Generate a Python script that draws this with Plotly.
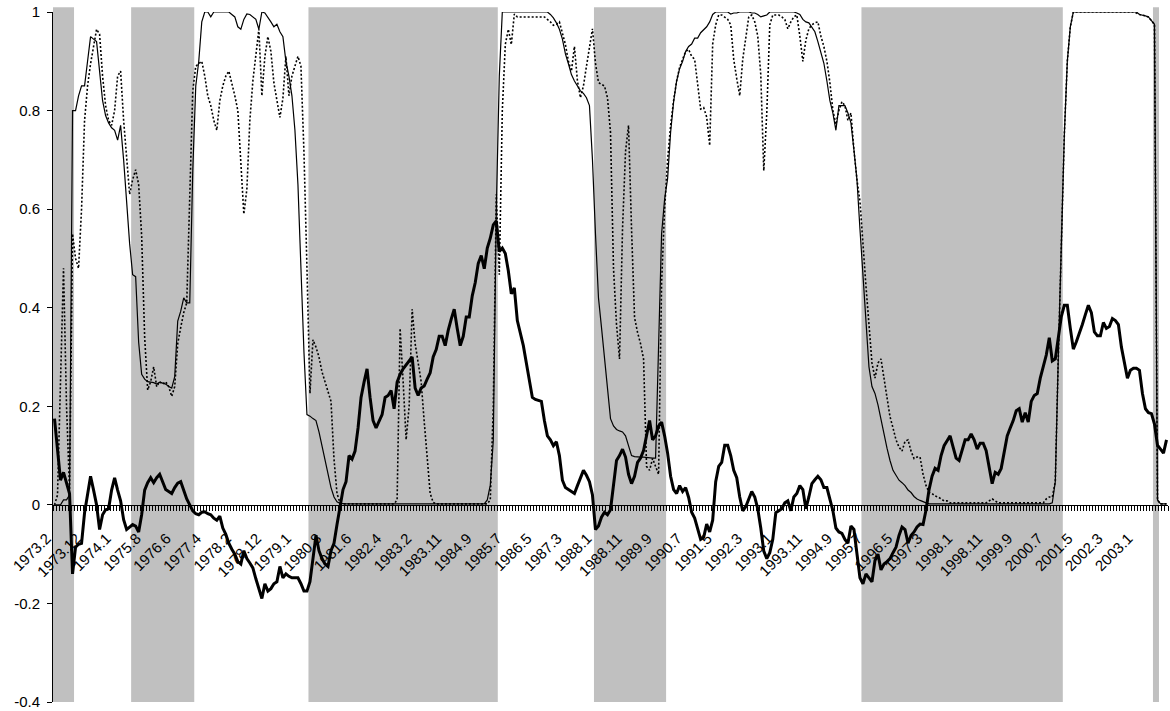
import plotly.graph_objects as go

# ---- x-axis tick labels (one every 10 monthly categories) ----
tick_labels = ["1973.2", "1973.12", "1974.1", "1975.8", "1976.6", "1977.4", "1978.2",
               "1978.12", "1979.1", "1980.8", "1981.6", "1982.4", "1983.2", "1983.11",
               "1984.9", "1985.7", "1986.5", "1987.3", "1988.1", "1988.11", "1989.9",
               "1990.7", "1991.5", "1992.3", "1993.1", "1993.11", "1994.9", "1995.7",
               "1996.5", "1997.3", "1998.1", "1998.11", "1999.9", "2000.7", "2001.5",
               "2002.3", "2003.1"]
label_step = 10

y_tick_vals = [1, 0.8, 0.6, 0.4, 0.2, 0, -0.2, -0.4]
y_tick_text = ["1", "0.8", "0.6", "0.4", "0.2", "0", "-0.2", "-0.4"]

# ---- shaded regime periods (category index edges) ----
band_start = [-0.5, 25.5, 84.5, 179.5, 268.5, 365.5]
band_end = [6.5, 46.5, 147.5, 203.5, 335.5, 367.5]

# ---- thin solid series ----
thin_solid = [
    0.00, 0.00, 0.00, 0.01, 0.01, 0.02, 0.80, 0.80, 0.83, 0.85,
    0.85, 0.90, 0.95, 0.945, 0.94, 0.88, 0.82, 0.79, 0.775, 0.765,
    0.76, 0.74, 0.77, 0.70, 0.615, 0.53, 0.467, 0.463, 0.33, 0.265,
    0.255, 0.25, 0.249, 0.248, 0.245, 0.249, 0.247, 0.245, 0.24, 0.237,
    0.26, 0.373, 0.393, 0.42, 0.41, 0.41, 0.677, 0.85, 0.90, 0.98,
    1.0, 1.0, 0.99, 1.0, 1.0, 1.0, 1.0, 1.0, 1.0, 0.995,
    0.99, 0.97, 0.965, 0.985, 0.996, 0.995, 0.99, 0.985, 0.965, 1.0,
    0.998, 0.99, 0.98, 0.97, 0.975, 0.96, 0.95, 0.90, 0.87, 0.83,
    0.76, 0.65, 0.48, 0.31, 0.183, 0.18, 0.175, 0.171, 0.148, 0.12,
    0.09, 0.065, 0.035, 0.016, 0.006, 0.003, 0.002, 0.002, 0.002, 0.002,
    0.002, 0.002, 0.002, 0.002, 0.002, 0.002, 0.002, 0.002, 0.002, 0.002,
    0.002, 0.002, 0.002, 0.002, 0.002, 0.002, 0.002, 0.002, 0.002, 0.002,
    0.002, 0.002, 0.002, 0.002, 0.002, 0.002, 0.002, 0.002, 0.002, 0.002,
    0.002, 0.002, 0.002, 0.002, 0.002, 0.002, 0.002, 0.002, 0.002, 0.002,
    0.002, 0.002, 0.002, 0.002, 0.01, 0.04, 0.13, 0.60, 0.87, 1.0,
    1.0, 1.0, 1.0, 1.0, 1.0, 1.0, 1.0, 1.0, 1.0, 1.0,
    1.0, 1.0, 1.0, 1.0, 1.0, 0.995, 0.988, 0.978, 0.965, 0.945,
    0.915, 0.895, 0.873, 0.86, 0.85, 0.84, 0.835, 0.826, 0.81, 0.70,
    0.55, 0.42, 0.36, 0.30, 0.24, 0.175, 0.16, 0.153, 0.15, 0.148,
    0.14, 0.12, 0.10, 0.098, 0.097, 0.097, 0.097, 0.096, 0.096, 0.095,
    0.095, 0.30, 0.55, 0.62, 0.662, 0.756, 0.818, 0.86, 0.885, 0.90,
    0.92, 0.93, 0.935, 0.947, 0.947, 0.958, 0.965, 0.97, 0.98, 0.995,
    1.0, 1.0, 1.0, 1.0, 1.0, 0.996, 0.998, 0.998, 1.0, 1.0,
    1.0, 1.0, 0.998, 0.998, 0.995, 0.99, 0.992, 0.994, 1.0, 1.0,
    1.0, 1.0, 1.0, 1.0, 1.0, 1.0, 1.0, 0.998, 0.995, 0.985,
    0.98, 0.978, 0.97, 0.96, 0.94, 0.92, 0.896, 0.86, 0.82, 0.795,
    0.76, 0.81, 0.81, 0.81, 0.795, 0.775, 0.72, 0.66, 0.56, 0.46,
    0.37, 0.28, 0.24, 0.226, 0.203, 0.171, 0.14, 0.115, 0.09, 0.07,
    0.06, 0.05, 0.045, 0.039, 0.03, 0.025, 0.017, 0.012, 0.009, 0.006,
    0.004, 0.002, 0.002, 0.002, 0.002, 0.002, 0.002, 0.002, 0.002, 0.002,
    0.002, 0.002, 0.002, 0.002, 0.002, 0.002, 0.002, 0.002, 0.002, 0.002,
    0.002, 0.002, 0.002, 0.002, 0.002, 0.002, 0.002, 0.002, 0.002, 0.002,
    0.002, 0.002, 0.002, 0.002, 0.002, 0.002, 0.002, 0.002, 0.002, 0.002,
    0.002, 0.002, 0.004, 0.047, 0.30, 0.55, 0.75, 0.90, 0.97, 1.0,
    1.0, 1.0, 1.0, 1.0, 1.0, 1.0, 1.0, 1.0, 1.0, 1.0,
    1.0, 1.0, 1.0, 1.0, 1.0, 1.0, 1.0, 1.0, 1.0, 1.0,
    1.0, 0.995, 0.994, 0.992, 0.99, 0.982, 0.975, 0.01, 0.002, 0.002,
    0.002,
]

# ---- dotted series ----
dotted = [
    0.0, 0.02, 0.25, 0.48, 0.20, 0.03, 0.55, 0.50, 0.48, 0.60,
    0.78, 0.85, 0.895, 0.93, 0.965, 0.955, 0.87, 0.81, 0.78, 0.77,
    0.80, 0.87, 0.88, 0.78, 0.70, 0.63, 0.66, 0.68, 0.65, 0.545,
    0.34, 0.233, 0.25, 0.28, 0.24, 0.25, 0.245, 0.25, 0.24, 0.22,
    0.24, 0.327, 0.36, 0.39, 0.41, 0.64, 0.84, 0.89, 0.895, 0.90,
    0.87, 0.83, 0.81, 0.78, 0.76, 0.82, 0.85, 0.87, 0.88, 0.856,
    0.83, 0.80, 0.70, 0.59, 0.64, 0.78, 0.86, 0.91, 0.965, 0.83,
    0.91, 0.95, 0.92, 0.856, 0.82, 0.786, 0.825, 0.91, 0.83, 0.87,
    0.89, 0.91, 0.89, 0.716, 0.48, 0.226, 0.335, 0.32, 0.30, 0.27,
    0.25, 0.23, 0.21, 0.093, 0.023, 0.004, 0.002, 0.002, 0.002, 0.002,
    0.002, 0.002, 0.002, 0.002, 0.002, 0.002, 0.002, 0.002, 0.002, 0.002,
    0.002, 0.002, 0.002, 0.002, 0.01, 0.358, 0.25, 0.132, 0.20, 0.397,
    0.327, 0.29, 0.25, 0.17, 0.093, 0.023, 0.005, 0.002, 0.002, 0.002,
    0.002, 0.002, 0.002, 0.002, 0.002, 0.002, 0.002, 0.002, 0.002, 0.002,
    0.002, 0.002, 0.002, 0.002, 0.002, 0.01, 0.20, 0.63, 0.467, 0.80,
    0.934, 0.965, 0.934, 0.996, 0.99, 0.99, 0.99, 0.99, 0.99, 0.99,
    0.99, 0.99, 0.99, 0.99, 0.985, 0.98, 0.973, 0.975, 0.98, 0.957,
    0.934, 0.90, 0.88, 0.93, 0.86, 0.826, 0.85, 0.89, 0.927, 0.966,
    0.896, 0.857, 0.853, 0.85, 0.826, 0.756, 0.48, 0.366, 0.296, 0.56,
    0.717, 0.77, 0.56, 0.38, 0.35, 0.327, 0.296, 0.078, 0.07, 0.094,
    0.078, 0.062, 0.45, 0.60, 0.70, 0.77, 0.82, 0.86, 0.888, 0.905,
    0.92, 0.924, 0.91, 0.904, 0.857, 0.803, 0.806, 0.787, 0.729, 0.935,
    0.974, 0.994, 0.994, 0.99, 0.985, 0.974, 0.904, 0.865, 0.83, 0.904,
    0.951, 0.99, 0.994, 0.98, 0.951, 0.873, 0.678, 0.795, 0.974, 0.994,
    0.994, 0.994, 0.99, 0.985, 0.966, 0.98, 0.99, 0.994, 0.951, 0.90,
    0.943, 0.966, 0.974, 0.978, 0.98, 0.951, 0.93, 0.90, 0.857, 0.80,
    0.772, 0.80, 0.818, 0.81, 0.78, 0.795, 0.72, 0.66, 0.616, 0.522,
    0.444, 0.366, 0.288, 0.257, 0.288, 0.296, 0.257, 0.21, 0.179, 0.156,
    0.132, 0.117, 0.109, 0.129, 0.132, 0.109, 0.094, 0.097, 0.097, 0.062,
    0.039, 0.025, 0.023, 0.018, 0.016, 0.012, 0.008, 0.008, 0.004, 0.004,
    0.004, 0.004, 0.004, 0.004, 0.004, 0.004, 0.004, 0.004, 0.004, 0.004,
    0.004, 0.008, 0.012, 0.008, 0.004, 0.004, 0.004, 0.004, 0.004, 0.004,
    0.004, 0.004, 0.004, 0.004, 0.004, 0.004, 0.004, 0.004, 0.004, 0.004,
    0.012, 0.016, 0.016, 0.047, 0.30, 0.55, 0.75, 0.90, 0.97, 1.0,
    1.0, 1.0, 1.0, 1.0, 1.0, 1.0, 1.0, 1.0, 1.0, 1.0,
    1.0, 1.0, 1.0, 1.0, 1.0, 1.0, 1.0, 1.0, 1.0, 1.0,
    0.998, 0.995, 0.994, 0.992, 0.99, 0.982, 0.975, 0.01, 0.002, 0.002,
    0.002,
]

# ---- thick solid series ----
thick = [
    0.175, 0.11, 0.05, 0.066, 0.045, 0.023, -0.14, -0.086, -0.08, -0.078,
    -0.016, 0.02, 0.058, 0.03, 0.0, -0.05, -0.02, -0.01, -0.008, 0.03,
    0.055, 0.03, 0.008, -0.03, -0.05, -0.045, -0.04, -0.043, -0.055, -0.02,
    0.03, 0.045, 0.055, 0.045, 0.055, 0.062, 0.045, 0.031, 0.027, 0.023,
    0.035, 0.044, 0.047, 0.03, 0.012, 0.0, -0.012, -0.018, -0.02, -0.015,
    -0.014, -0.018, -0.02, -0.027, -0.031, -0.023, -0.047, -0.06, -0.078, -0.09,
    -0.10, -0.115, -0.12, -0.093, -0.109, -0.118, -0.128, -0.15, -0.168, -0.19,
    -0.16, -0.175, -0.17, -0.16, -0.156, -0.125, -0.148, -0.14, -0.145, -0.148,
    -0.148, -0.148, -0.16, -0.175, -0.175, -0.156, -0.109, -0.062, -0.093, -0.109,
    -0.12, -0.125, -0.093, -0.078, -0.04, 0.0, 0.031, 0.047, 0.10, 0.093,
    0.109, 0.156, 0.218, 0.249, 0.276, 0.218, 0.171, 0.156, 0.171, 0.183,
    0.218, 0.222, 0.232, 0.195, 0.249, 0.265, 0.276, 0.284, 0.29, 0.30,
    0.237, 0.222, 0.237, 0.241, 0.255, 0.268, 0.30, 0.315, 0.342, 0.342,
    0.323, 0.354, 0.377, 0.397, 0.358, 0.323, 0.342, 0.381, 0.381, 0.424,
    0.451, 0.49, 0.506, 0.479, 0.521, 0.541, 0.568, 0.576, 0.514, 0.521,
    0.51, 0.475, 0.428, 0.44, 0.374, 0.35, 0.323, 0.288, 0.249, 0.218,
    0.214, 0.212, 0.21, 0.171, 0.14, 0.132, 0.12, 0.128, 0.10, 0.05,
    0.035, 0.031, 0.027, 0.023, 0.039, 0.055, 0.07, 0.06, 0.047, 0.02,
    -0.05, -0.043, -0.025, -0.015, -0.02, -0.01, 0.04, 0.09, 0.10, 0.113,
    0.097, 0.062, 0.043, 0.058, 0.086, 0.095, 0.11, 0.14, 0.171, 0.132,
    0.14, 0.16, 0.168, 0.14, 0.105, 0.058, 0.031, 0.023, 0.039, 0.027,
    0.035, 0.015, -0.015, -0.027, -0.05, -0.07, -0.066, -0.039, -0.055, -0.031,
    0.047, 0.078, 0.086, 0.121, 0.121, 0.10, 0.07, 0.055, 0.016, -0.012,
    -0.004, 0.012, 0.027, 0.016, -0.008, -0.047, -0.094, -0.109, -0.097, -0.07,
    -0.016, -0.012, -0.008, 0.004, 0.008, -0.012, 0.016, 0.023, 0.039, 0.031,
    -0.008, 0.016, 0.043, 0.051, 0.058, 0.051, 0.035, 0.035, 0.012, -0.012,
    -0.047, -0.055, -0.058, -0.07, -0.078, -0.043, -0.05, -0.10, -0.148, -0.16,
    -0.14, -0.148, -0.156, -0.113, -0.10, -0.132, -0.12, -0.115, -0.109, -0.097,
    -0.086, -0.062, -0.045, -0.05, -0.078, -0.062, -0.055, -0.045, -0.039, -0.04,
    -0.01, 0.031, 0.058, 0.074, 0.07, 0.10, 0.12, 0.13, 0.14, 0.117,
    0.095, 0.09, 0.109, 0.132, 0.132, 0.144, 0.132, 0.113, 0.125, 0.125,
    0.11, 0.078, 0.043, 0.066, 0.062, 0.074, 0.109, 0.14, 0.156, 0.171,
    0.191, 0.195, 0.168, 0.187, 0.168, 0.21, 0.222, 0.226, 0.257, 0.284,
    0.304, 0.339, 0.292, 0.296, 0.343, 0.382, 0.405, 0.405, 0.358, 0.316,
    0.331, 0.347, 0.366, 0.386, 0.405, 0.39, 0.351, 0.343, 0.343, 0.37,
    0.358, 0.362, 0.378, 0.374, 0.366, 0.32, 0.288, 0.257, 0.273, 0.277,
    0.277, 0.273, 0.226, 0.195, 0.187, 0.185, 0.164, 0.121, 0.113, 0.105,
    0.132,
]

if not (len(thin_solid) == len(dotted) == len(thick)):
    raise ValueError(f"length mismatch {len(thin_solid)} {len(dotted)} {len(thick)}")

n = len(thick)
x = list(range(n))

fig = go.Figure()

for s, e in zip(band_start, band_end):
    fig.add_shape(type="rect", xref="x", yref="paper", x0=s, x1=e, y0=0, y1=1.007,
                  fillcolor="#C0C0C0", line=dict(width=0), layer="below")

fig.add_trace(go.Scatter(x=x, y=thin_solid, mode="lines",
                         line=dict(color="black", width=1.2), hoverinfo="skip"))
fig.add_trace(go.Scatter(x=x, y=dotted, mode="lines",
                         line=dict(color="black", width=1.6, dash="2px,2px"), hoverinfo="skip"))
fig.add_trace(go.Scatter(x=x, y=thick, mode="lines",
                         line=dict(color="black", width=3), hoverinfo="skip"))

fig.update_layout(
    width=1170, height=711,
    margin=dict(l=53, r=2, t=12, b=9, autoexpand=False),
    plot_bgcolor="white", paper_bgcolor="white",
    showlegend=False,
    font=dict(family="Arial, 'Liberation Sans', sans-serif", size=15, color="black"),
)

fig.update_xaxes(
    range=[-0.5, n - 0.5],
    tickmode="array",
    tickvals=[i * label_step for i in range(len(tick_labels))],
    ticktext=tick_labels,
    tickangle=-45,
    ticks="",
    tickfont=dict(size=15),
    ticklabelstandoff=18,
    ticklabelshift=-8,
    ticklabeloverflow="allow",
    showline=True, linecolor="black", linewidth=1,
    anchor="free", position=0.4 / 1.4,
    showgrid=False, zeroline=False, automargin=False,
    minor=dict(ticks="outside", ticklen=5, dtick=1, tick0=0.5,
               tickcolor="black", tickwidth=1, showgrid=False),
)

fig.update_yaxes(
    range=[-0.4, 1],
    tickmode="array", tickvals=y_tick_vals, ticktext=y_tick_text,
    ticks="outside", ticklen=5, tickcolor="black",
    showline=True, linecolor="black", linewidth=1,
    showgrid=False, zeroline=False, automargin=False,
    tickfont=dict(size=15), ticklabelstandoff=4,
    ticklabeloverflow="allow",
)

# remove the default page margin so the 1170x711 figure sits at the window origin
fig.write_html("out.html", config={"displayModeBar": False},
               post_script="document.body.style.margin='0px';")
